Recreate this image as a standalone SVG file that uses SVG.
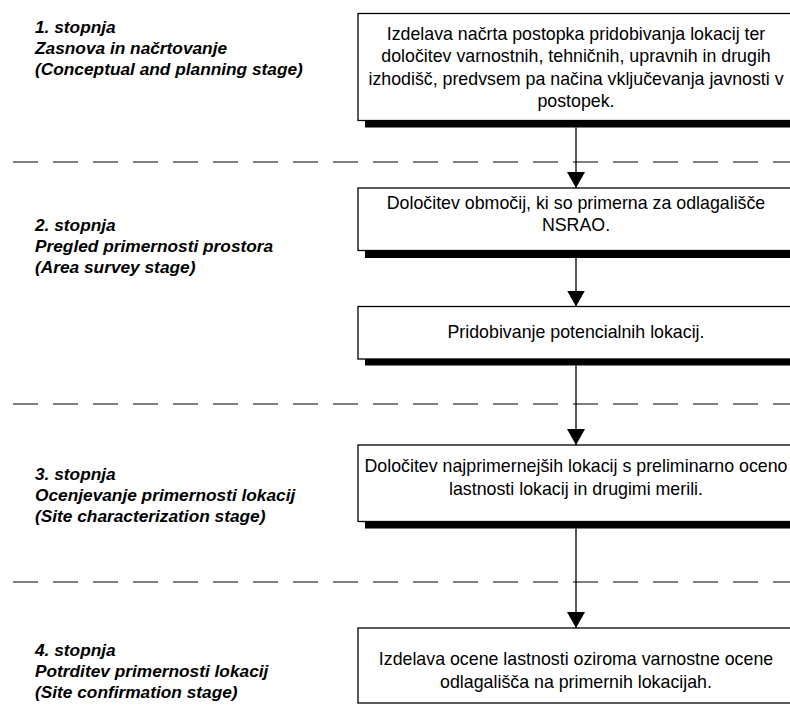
<svg xmlns="http://www.w3.org/2000/svg" width="790" height="713" viewBox="0 0 790 713">
<style>
.box{fill:#fff;stroke:#000;stroke-width:1.3}
.shadow{fill:#000}
.bt{font-family:"Liberation Sans",Arial,sans-serif;font-size:17.8px;fill:#000;text-anchor:middle}
.st{font-family:"Liberation Sans",Arial,sans-serif;font-size:17.3px;font-weight:bold;font-style:italic;fill:#000}
.dash{stroke:#000;stroke-width:1.2;stroke-dasharray:25 15;fill:none}
.conn{stroke:#000;stroke-width:1.3;fill:none;marker-end:url(#arr)}
</style>
<defs>
<marker id="arr" markerUnits="userSpaceOnUse" markerWidth="16" markerHeight="18" refX="16" refY="9" orient="auto">
<path d="M0,0 L16,9 L0,18 Z" fill="#000"/>
</marker>
</defs>
<rect width="790" height="713" fill="#fff"/>
<g id="separators">
<line class="dash" x1="13" y1="162" x2="790" y2="162"/>
<line class="dash" x1="13" y1="404" x2="790" y2="404"/>
<line class="dash" x1="13" y1="582" x2="790" y2="582"/>
</g>
<g id="stage1">
<text class="st" x="35" y="33">1. stopnja</text>
<text class="st" x="35" y="54">Zasnova in načrtovanje</text>
<text class="st" x="35" y="75">(Conceptual and planning stage)</text>
</g>
<g id="stage2">
<text class="st" x="35" y="231">2. stopnja</text>
<text class="st" x="35" y="252">Pregled primernosti prostora</text>
<text class="st" x="35" y="273">(Area survey stage)</text>
</g>
<g id="stage3">
<text class="st" x="35" y="480">3. stopnja</text>
<text class="st" x="35" y="501">Ocenjevanje primernosti lokacij</text>
<text class="st" x="35" y="522">(Site characterization stage)</text>
</g>
<g id="stage4">
<text class="st" x="35" y="656">4. stopnja</text>
<text class="st" x="35" y="677">Potrditev primernosti lokacij</text>
<text class="st" x="35" y="698">(Site confirmation stage)</text>
</g>
<g id="connectors">
<line class="conn" x1="576" y1="127.5" x2="576" y2="188"/>
<line class="conn" x1="576" y1="258" x2="576" y2="306.5"/>
<line class="conn" x1="576" y1="365.5" x2="576" y2="445"/>
<line class="conn" x1="576" y1="528.5" x2="576" y2="628"/>
</g>
<g id="box1">
<rect class="shadow" x="365" y="20.5" width="436" height="107"/>
<rect class="box" x="358" y="13.5" width="436" height="107"/>
<text class="bt" x="576" y="39.5">Izdelava načrta postopka pridobivanja lokacij ter</text>
<text class="bt" x="576" y="62">določitev varnostnih, tehničnih, upravnih in drugih</text>
<text class="bt" x="576" y="84.5">izhodišč, predvsem pa načina vključevanja javnosti v</text>
<text class="bt" x="576" y="107">postopek.</text>
</g>
<g id="box2">
<rect class="shadow" x="365" y="195" width="436" height="63"/>
<rect class="box" x="358" y="188" width="436" height="62.5"/>
<text class="bt" x="576" y="208.5">Določitev območij, ki so primerna za odlagališče</text>
<text class="bt" x="576" y="231">NSRAO.</text>
</g>
<g id="box3">
<rect class="shadow" x="365" y="313" width="436" height="52.5"/>
<rect class="box" x="358" y="306.5" width="436" height="52.5"/>
<text class="bt" x="576" y="338">Pridobivanje potencialnih lokacij.</text>
</g>
<g id="box4">
<rect class="shadow" x="365" y="452" width="436" height="76.5"/>
<rect class="box" x="358" y="445" width="436" height="76.5"/>
<text class="bt" x="576" y="471.5">Določitev najprimernejših lokacij s preliminarno oceno</text>
<text class="bt" x="576" y="494.5">lastnosti lokacij in drugimi merili.</text>
</g>
<g id="box5">
<rect class="box" x="358" y="628" width="436" height="75"/>
<text class="bt" x="576" y="665">Izdelava ocene lastnosti oziroma varnostne ocene</text>
<text class="bt" x="576" y="688">odlagališča na primernih lokacijah.</text>
</g>
</svg>
